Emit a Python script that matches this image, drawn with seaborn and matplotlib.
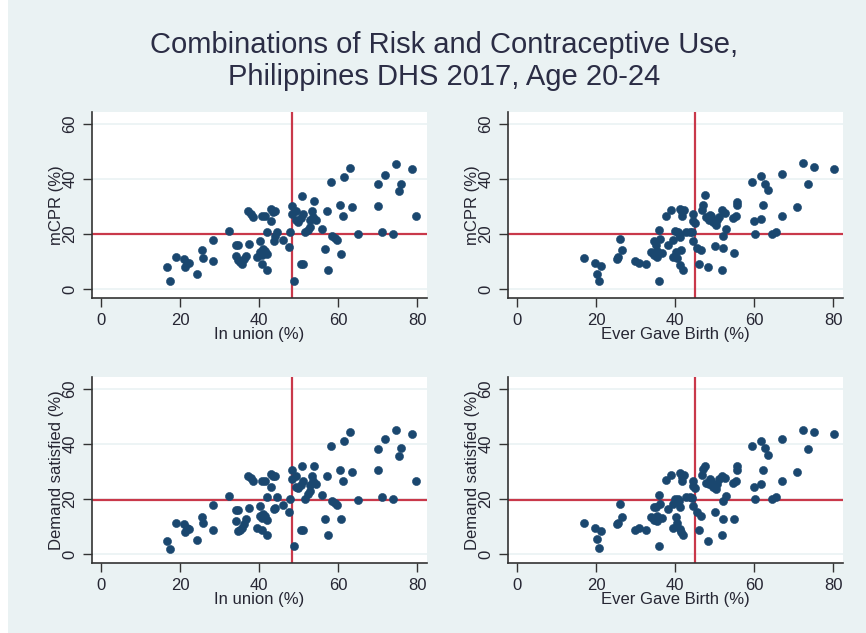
import pandas as pd
import matplotlib
matplotlib.use("Agg")
import matplotlib.pyplot as plt
from matplotlib.patches import Rectangle
import seaborn as sns

# regional estimates, women age 20-24
union = [16.5, 17.4, 19.0, 20.8, 21.2, 21.6, 22.2, 24.1, 25.4, 25.8,
         28.2, 28.2, 32.4, 34.2, 34.7, 34.0, 34.7, 35.1, 35.7, 36.1,
         36.7, 37.4, 37.2, 37.8, 38.3, 39.5, 40.1, 40.3, 40.8, 41.4,
         40.8, 40.6, 41.0, 41.4, 42.0, 42.0, 42.0, 42.9, 42.9, 43.5,
         44.1, 44.4, 44.0, 43.7, 46.1, 47.6, 47.9, 48.4, 48.9, 48.4,
         49.4, 49.2, 49.8, 50.7, 50.5, 51.1, 50.5, 51.1, 51.7, 52.4,
         52.9, 53.4, 53.8, 53.7, 54.3, 52.9, 55.8, 56.6, 57.2, 57.5,
         58.1, 58.5, 59.1, 59.6, 60.4, 60.8, 61.3, 61.4, 63.1, 63.5,
         64.9, 70.1, 70.1, 71.0, 71.8, 73.8, 74.7, 75.5, 76.0, 78.7, 79.8]
mcpr_u = [8.0, 2.8, 11.5, 10.8, 8.0, 9.5, 9.3, 5.4, 14.0, 11.4,
          17.9, 10.0, 21.2, 16.0, 16.0, 12.0, 10.4, 9.8, 9.0, 10.8,
          12.0, 16.4, 28.5, 27.3, 26.3, 11.6, 17.4, 13.4, 26.4, 26.4,
          12.5, 8.9, 14.6, 13.8, 12.6, 6.8, 20.6, 24.6, 29.1, 27.9,
          28.5, 20.6, 19.1, 17.3, 17.9, 15.2, 20.6, 30.3, 2.9, 27.3,
          28.5, 24.9, 24.3, 33.9, 25.7, 27.3, 8.9, 8.9, 20.6, 21.5,
          24.9, 28.5, 31.8, 26.1, 25.1, 22.4, 21.8, 14.6, 28.5, 6.8,
          39.0, 19.4, 18.5, 17.6, 30.5, 12.6, 26.4, 40.8, 44.1, 29.7,
          19.8, 38.1, 30.3, 20.6, 41.4, 19.8, 45.5, 35.7, 38.3, 43.5, 26.4]
demand_u = [4.6, 1.9, 11.2, 10.9, 7.9, 9.4, 9.2, 5.2, 13.5, 11.2,
            17.9, 8.6, 21.2, 15.8, 15.8, 11.9, 8.5, 8.8, 9.4, 11.0,
            12.8, 16.7, 28.4, 27.6, 26.4, 9.4, 17.3, 13.7, 26.6, 26.6,
            13.1, 8.6, 14.6, 13.7, 12.5, 6.8, 20.6, 24.5, 29.1, 28.4,
            28.4, 20.6, 16.7, 16.4, 17.9, 15.2, 20.0, 30.6, 2.8, 27.3,
            28.4, 24.5, 23.9, 31.8, 25.2, 26.4, 8.6, 8.6, 20.0, 21.9,
            25.2, 28.4, 31.8, 26.4, 25.4, 22.7, 21.3, 12.7, 28.4, 6.8,
            39.1, 19.3, 18.5, 17.9, 30.6, 12.7, 26.4, 41.1, 44.3, 29.7,
            19.7, 38.2, 30.6, 20.6, 41.7, 20.0, 44.9, 35.7, 38.5, 43.7, 26.4]

birth = [16.9, 19.6, 20.1, 20.6, 21.2, 25.1, 25.4, 26.1, 26.5, 29.8,
         30.9, 32.6, 33.9, 34.5, 34.7, 35.1, 35.4, 35.8, 35.8, 36.0,
         36.7, 37.7, 38.1, 38.9, 39.4, 39.8, 39.4, 40.2, 40.4, 40.6,
         41.1, 41.2, 41.2, 41.7, 41.7, 41.9, 41.5, 42.3, 42.8, 43.6,
         44.5, 44.5, 44.5, 44.3, 45.5, 46.0, 46.6, 46.8, 47.0, 47.4,
         47.7, 48.3, 48.5, 49.1, 49.5, 50.0, 50.4, 50.5, 51.1, 51.9,
         51.9, 52.1, 52.1, 52.5, 52.9, 55.0, 54.6, 55.5, 55.6, 55.6,
         59.5, 59.9, 60.3, 61.6, 61.8, 62.1, 62.7, 63.5, 64.4, 65.4,
         67.1, 67.1, 70.9, 72.4, 73.7, 75.2, 80.3, 44.9, 48.7, 40.9, 35.4]
mcpr_b = [11.4, 9.5, 5.4, 2.9, 8.3, 10.8, 11.7, 18.1, 14.1, 10.2,
          9.5, 8.9, 13.5, 17.3, 12.3, 15.9, 13.9, 21.3, 2.9, 18.3,
          12.9, 26.6, 15.9, 28.6, 17.7, 21.0, 11.7, 13.5, 11.1, 20.7,
          8.7, 18.9, 29.2, 28.0, 26.4, 6.9, 14.1, 28.8, 20.7, 20.7,
          27.3, 24.7, 17.5, 20.7, 14.9, 8.9, 14.1, 28.6, 30.6, 34.0,
          26.1, 8.1, 24.9, 26.4, 24.3, 15.5, 23.1, 24.9, 26.1, 28.6,
          6.9, 14.7, 19.2, 27.6, 21.9, 12.9, 25.9, 26.4, 31.6, 30.4,
          39.0, 24.6, 19.9, 41.0, 25.3, 30.4, 38.2, 35.8, 19.9, 20.7,
          41.6, 26.4, 29.8, 45.7, 38.2, 44.2, 43.6, 24.0, 26.7, 19.9, 11.7]
demand_b = [11.4, 9.6, 5.4, 2.2, 8.2, 10.8, 11.4, 18.1, 13.6, 8.8,
            9.4, 8.8, 13.6, 16.9, 12.4, 17.2, 13.9, 21.4, 3.0, 18.1,
            12.9, 26.7, 16.3, 28.6, 18.1, 19.9, 9.6, 13.6, 11.4, 20.1,
            9.0, 16.9, 29.3, 28.1, 26.5, 7.0, 7.8, 28.6, 20.7, 20.7,
            26.5, 24.7, 17.5, 20.5, 15.1, 8.8, 13.9, 28.6, 31.0, 31.9,
            25.9, 4.8, 25.3, 26.5, 24.5, 15.3, 23.5, 25.3, 27.1, 28.3,
            7.0, 12.7, 19.3, 27.7, 21.1, 12.7, 25.9, 26.5, 31.9, 30.5,
            39.2, 24.5, 19.9, 41.2, 25.3, 30.5, 38.6, 35.8, 19.9, 20.7,
            41.8, 26.5, 29.8, 44.9, 38.3, 44.3, 43.7, 24.1, 27.1, 19.3, 12.0]

# national reference values (red lines)
union_cut = 48.3
birth_cut = 45.0
mcpr_cut = 20.0
demand_cut = 19.6

bg = "#eaf2f3"
navy = "#1a476f"
red = "#c9384a"
txt = "#262633"

sns.set_theme(style="white")
plt.rcParams["font.family"] = ["Liberation Sans", "DejaVu Sans"]

fig = plt.figure(figsize=(8.66, 6.33), dpi=100, facecolor=bg)
fig.patches.append(Rectangle((0, 0), 8 / 866, 1, transform=fig.transFigure,
                             facecolor="white", edgecolor="none"))

W, H = 866, 633
panels = [
    (union, mcpr_u, union_cut, mcpr_cut, "In union (%)", "mCPR (%)", 92, 298),
    (birth, mcpr_b, birth_cut, mcpr_cut, "Ever Gave Birth (%)", "mCPR (%)", 508, 298),
    (union, demand_u, union_cut, demand_cut, "In union (%)", "Demand satisfied (%)", 92, 563),
    (birth, demand_b, birth_cut, demand_cut, "Ever Gave Birth (%)", "Demand satisfied (%)", 508, 563),
]

for xs, ys, xcut, ycut, xlab, ylab, left, bottom in panels:
    ax = fig.add_axes([left / W, 1 - bottom / H, 335 / W, 186 / H])
    ax.set_facecolor("white")
    df = pd.DataFrame({"x": xs, "y": ys})
    ax.yaxis.grid(True, color=bg, linewidth=1.2)
    ax.set_axisbelow(True)
    ax.axhline(ycut, color=red, linewidth=1.6, zorder=2)
    ax.axvline(xcut, color=red, linewidth=1.6, zorder=2)
    sns.scatterplot(data=df, x="x", y="y", ax=ax, color=navy, s=34,
                    edgecolor=navy, linewidth=0.4, zorder=3)
    ax.set_xlim(-2.4, 82.5)
    ax.set_ylim(-3.3, 64.3)
    ax.set_xticks([0, 20, 40, 60, 80])
    ax.set_yticks([0, 20, 40, 60])
    for s in ["top", "right"]:
        ax.spines[s].set_visible(False)
    for s in ["left", "bottom"]:
        ax.spines[s].set_color("#333333")
        ax.spines[s].set_linewidth(1.2)
    ax.tick_params(direction="out", length=6.5, width=1, color="#333333",
                   labelsize=12, labelcolor=txt, pad=4)
    ax.tick_params(axis="x", bottom=True)
    ax.tick_params(axis="y", left=True)
    for lbl in ax.get_yticklabels():
        lbl.set_rotation(90)
        lbl.set_va("center")
    ax.set_xlabel(xlab, fontsize=12, color=txt)
    ax.set_ylabel(ylab, fontsize=12, color=txt)
    ax.xaxis.set_label_coords(0.5, -0.158)
    ax.yaxis.set_label_coords(-0.085, 0.5)

fig.text(444 / W, 1 - 61 / H,
         "Combinations of Risk and Contraceptive Use,\nPhilippines DHS 2017, Age 20-24",
         ha="center", va="center", fontsize=21, color="#2b2d45", linespacing=1.14)

fig.savefig("out.png", dpi=100, facecolor=fig.get_facecolor())
